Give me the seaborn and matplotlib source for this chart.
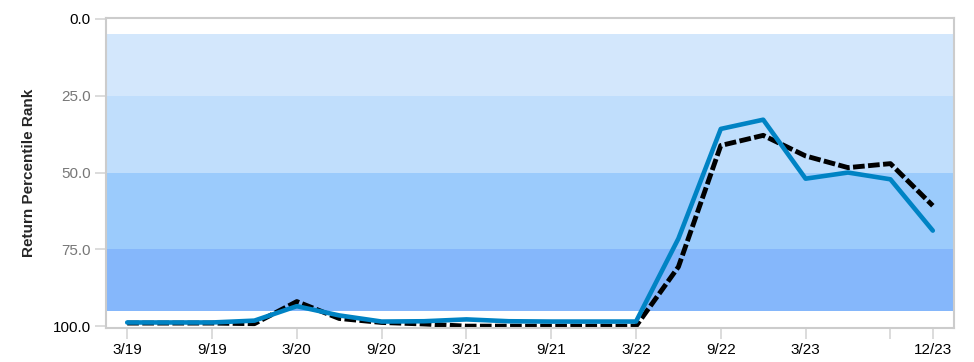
import matplotlib
matplotlib.use("Agg")
import matplotlib.pyplot as plt
import seaborn as sns
import pandas as pd
import numpy as np

quarters = ['3/19', '6/19', '9/19', '12/19', '3/20', '6/20', '9/20', '12/20',
            '3/21', '6/21', '9/21', '12/21', '3/22', '6/22', '9/22', '12/22',
            '3/23', '6/23', '9/23', '12/23']
fund_rank = [98.8, 98.8, 98.8, 98.2, 93.5, 96.5, 98.5, 98.4, 97.8, 98.4,
             98.5, 98.5, 98.5, 71.5, 35.8, 32.8, 52.0, 50.0, 52.2, 68.9]
peer_rank = [99.0, 99.0, 99.0, 99.2, 92.0, 97.5, 98.8, 99.3, 100.0, 100.0,
             100.0, 100.0, 100.0, 80.7, 41.2, 37.9, 44.6, 48.4, 47.1, 60.8]
tick_labels = ['3/19', '9/19', '3/20', '9/20', '3/21', '9/21', '3/22', '9/22', '3/23', '', '12/23']
band_edges = [5, 25, 50, 75, 95]
band_colors = ['#D3E7FC', '#C0DEFC', '#9BCBFC', '#85B7FB']

sns.set_theme(style="white")
plt.rcParams['font.family'] = ['Liberation Sans', 'DejaVu Sans']

df = pd.DataFrame({'q': np.arange(len(quarters)), 'label': quarters,
                   'fund': fund_rank, 'peer': peer_rank})

fig = plt.figure(figsize=(9.74, 3.62), dpi=100)
ax = fig.add_axes([106/974, 34/362, 848/974, 310/362])

for lo, hi, c in zip(band_edges[:-1], band_edges[1:], band_colors):
    ax.axhspan(lo, hi, color=c, lw=0, zorder=0)

sns.lineplot(data=df, x='q', y='peer', ax=ax, color='black', lw=3.5,
             dashes=False, zorder=2)
ax.lines[-1].set_dashes([2.4, 0.7])
sns.lineplot(data=df, x='q', y='fund', ax=ax, color='#0083C4', lw=3.3, zorder=3)

ax.set_xlim(-0.5, len(quarters) - 0.5)
ax.set_ylim(100.6, -0.3)

xt = list(range(0, 19, 2)) + [19]
ax.set_xticks(xt)
ax.set_xticklabels(tick_labels, fontsize=11, color='black')
ax.set_yticks([0, 25, 50, 75, 100])
ax.set_yticklabels(['0.0', '25.0', '50.0', '75.0', '100.0'], fontsize=11)
for lab in ax.get_yticklabels():
    lab.set_color('black' if lab.get_text() in ('0.0', '100.0') else '#777777')
ytl = ax.yaxis.get_major_ticks()
for i, t in enumerate(ytl):
    if i in (0, 4):
        t.tick1line.set_visible(False)

ax.tick_params(axis='x', bottom=True, length=8, width=1.2, color='#d6d6d6', pad=3)
ax.tick_params(axis='y', left=True, length=8, width=1.2, color='#d6d6d6', pad=3)

ax.set_xlabel('')
ax.set_ylabel('Return Percentile Rank', fontsize=11, fontweight='bold', labelpad=12)

for s in ax.spines.values():
    s.set_color('#cccccc')
    s.set_linewidth(1.5)

fig.savefig('out.png', dpi=100)
